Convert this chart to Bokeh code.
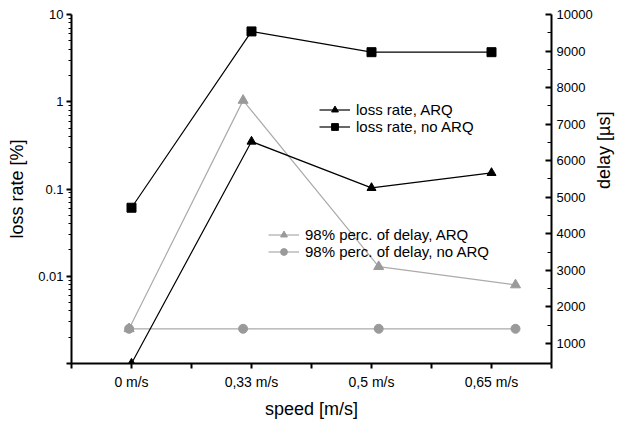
import math
from bokeh.plotting import figure
from bokeh.models import Range1d, LinearAxis, FixedTicker, Legend, LegendItem, LinearScale
from bokeh.embed import file_html
from bokeh.resources import INLINE

# ---- data ----
categories = ["0 m/s", "0,33 m/s", "0,5 m/s", "0,65 m/s"]
cat_x = [0.5, 1.5, 2.5, 3.5]
boundaries = [0, 1, 2, 3, 4]

loss_arq = [0.001, 0.35, 0.103, 0.153]
loss_no_arq = [0.061, 6.4, 3.7, 3.7]

delay_x = [0.48, 1.43, 2.56, 3.70]
delay_arq = [1400, 7650, 3100, 2600]
delay_no_arq = [1400, 1400, 1400, 1400]

left_ticks = [0.001, 0.01, 0.1, 1, 10]
left_labels = ["", "0.01", "0.1", "1", "10"]
left_minor = [m * d for d in [0.001, 0.01, 0.1, 1] for m in range(2, 10)]
right_ticks = [1000, 2000, 3000, 4000, 5000, 6000, 7000, 8000, 9000, 10000]
right_minor = [1500, 2500, 3500, 4500, 5500, 6500, 7500, 8500, 9500]

FONT = "Liberation Sans"
GRAY_LINE = "#ababab"
GRAY_MARK = "#9a9a9a"

p = figure(frame_width=480, frame_height=349, y_axis_type="log",
           x_range=Range1d(0, 4), y_range=Range1d(0.001, 10),
           output_backend="svg", toolbar_location=None,
           min_border_left=71, min_border_right=76, min_border_top=14, min_border_bottom=52)
p.outline_line_color = None
p.xgrid.visible = False
p.ygrid.visible = False
p.background_fill_color = "white"
p.border_fill_color = "white"

p.extra_y_ranges = {"delay": Range1d(450, 10000)}
p.extra_y_scales = {"delay": LinearScale()}

# delay (gray) series
l_da = p.line(delay_x, delay_arq, y_range_name="delay", color=GRAY_LINE, line_width=1.2)
s_da = p.scatter(delay_x, delay_arq, y_range_name="delay", marker="triangle", size=10,
                 color=GRAY_MARK)
l_dn = p.line(delay_x, delay_no_arq, y_range_name="delay", color=GRAY_LINE, line_width=1.2)
s_dn = p.scatter(delay_x, delay_no_arq, y_range_name="delay", marker="circle", size=9,
                 color=GRAY_MARK)

# loss (black) series
l_la = p.line(cat_x, loss_arq, color="black", line_width=1.2)
s_la = p.scatter(cat_x, loss_arq, marker="triangle", size=9, color="black")
l_ln = p.line(cat_x, loss_no_arq, color="black", line_width=1.2)
s_ln = p.scatter(cat_x, loss_no_arq, marker="square", size=9, color="black")

# x axis
xa = p.xaxis[0]
xa.ticker = FixedTicker(ticks=sorted(cat_x + boundaries))
ov = {b: "" for b in boundaries}
ov.update({x: c for x, c in zip(cat_x, categories)})
xa.major_label_overrides = ov
xa.axis_label = "speed [m/s]"

# left axis
ya = p.yaxis[0]
ya.ticker = FixedTicker(ticks=left_ticks, minor_ticks=left_minor)
ya.major_label_overrides = {t: l for t, l in zip(left_ticks, left_labels)}
ya.axis_label = "loss rate [%]"

# right axis
ra = LinearAxis(y_range_name="delay", axis_label="delay [µs]",
                ticker=FixedTicker(ticks=right_ticks, minor_ticks=right_minor))
p.add_layout(ra, "right")

for ax in [xa, ya, ra]:
    ax.axis_line_width = 2
    ax.axis_line_color = "black"
    ax.major_tick_line_width = 2
    ax.minor_tick_line_width = 1
    ax.major_tick_line_color = "black"
    ax.minor_tick_line_color = "black"
    ax.major_label_text_font = FONT
    ax.major_label_text_color = "black"
    ax.axis_label_text_font = FONT
    ax.axis_label_text_font_style = "normal"
    ax.axis_label_text_font_size = "18px"
    ax.axis_label_text_color = "black"

xa.major_label_text_font_size = "14px"
xa.major_tick_out = 5
xa.major_tick_in = 0
xa.minor_tick_out = 0
xa.major_label_standoff = 5
xa.axis_label_standoff = 6

ya.major_label_text_font_size = "13px"
ya.major_tick_out = 5
ya.major_tick_in = 0
ya.minor_tick_out = 3
ya.minor_tick_in = 0
ya.major_label_standoff = 3
ya.axis_label_standoff = 8

ra.major_label_text_font_size = "13px"
ra.major_tick_out = 0
ra.major_tick_in = 6
ra.minor_tick_out = 0
ra.minor_tick_in = 4
ra.major_label_standoff = 5
ra.axis_label_standoff = 8
ra.axis_label_orientation = math.pi / 2

def make_legend(items, loc):
    lg = Legend(items=items, location=loc, orientation="vertical",
                label_text_font=FONT, label_text_font_size="15px",
                label_text_color="black",
                glyph_width=31, glyph_height=17, label_height=17,
                label_standoff=6, spacing=0, padding=0, margin=0,
                border_line_alpha=0, background_fill_alpha=0)
    return lg

leg1 = make_legend([LegendItem(label="loss rate, ARQ", renderers=[l_la, s_la]),
                    LegendItem(label="loss rate, no ARQ", renderers=[l_ln, s_ln])],
                   (248, 228))
leg2 = make_legend([LegendItem(label="98% perc. of delay, ARQ", renderers=[l_da, s_da]),
                    LegendItem(label="98% perc. of delay, no ARQ", renderers=[l_dn, s_dn])],
                   (197, 103))
p.add_layout(leg1)
p.add_layout(leg2)

open("out.html", "w").write(file_html(p, INLINE))
